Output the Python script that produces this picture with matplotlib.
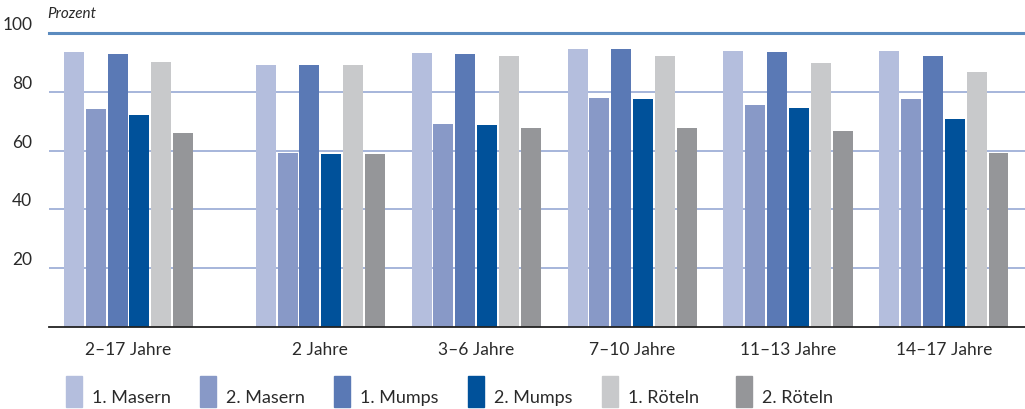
import numpy as np
import matplotlib
matplotlib.use("Agg")
import matplotlib.pyplot as plt
from matplotlib.patches import Rectangle

# Daten (Impfquoten in Prozent)
groups = ["2–17 Jahre", "2 Jahre", "3–6 Jahre", "7–10 Jahre", "11–13 Jahre", "14–17 Jahre"]
series = ["1. Masern", "2. Masern", "1. Mumps", "2. Mumps", "1. Röteln", "2. Röteln"]
masern_1 = [93.5, 89.1, 93.2, 94.6, 93.9, 93.9]
masern_2 = [74.1, 59.2, 69.0, 77.9, 75.5, 77.6]
mumps_1 = [92.9, 89.1, 92.9, 94.6, 93.5, 92.2]
mumps_2 = [72.1, 58.8, 68.7, 77.6, 74.5, 70.7]
roeteln_1 = [90.1, 89.0, 92.2, 92.2, 89.8, 86.7]
roeteln_2 = [66.0, 58.8, 67.7, 67.7, 66.7, 59.2]
values = [masern_1, masern_2, mumps_1, mumps_2, roeteln_1, roeteln_2]
colors = ["#b4bedd", "#8899c7", "#5a79b5", "#00519a", "#c8c9cb", "#959699"]

plt.rcParams['font.family'] = ['Lato', 'DejaVu Sans']

fig = plt.figure(figsize=(10.25, 4.09), dpi=100)
ax = fig.add_axes([49/1025, 1 - 327/409, 1 - 49/1025, (327 - 33)/409])

# Gesamtgruppe etwas abgesetzt
x = np.arange(len(groups)) + np.where(np.arange(len(groups)) > 0, 0.23, 0.0)
pitch = 0.14
width = 0.128
for i, (vals, col) in enumerate(zip(values, colors)):
    ax.bar(x + (i - 2.5) * pitch, vals, width, color=col, zorder=3)

ax.set_xlim(-0.51, 5.75)
ax.set_ylim(0, 100)

for y in [20, 40, 60, 80]:
    ax.axhline(y, color="#9fb0d8", lw=1.3, zorder=1)
ax.axhline(100, color="#5b8bbf", lw=2.2, zorder=1, clip_on=False)

for s in ["top", "right", "left"]:
    ax.spines[s].set_visible(False)
ax.spines["bottom"].set_color("#222222")
ax.spines["bottom"].set_linewidth(1.3)
ax.spines["bottom"].set_zorder(4)

ax.set_yticks([20, 40, 60, 80, 100])
ax.set_yticklabels(["20", "40", "60", "80", "100"])
ax.tick_params(axis="y", length=0, pad=12, labelsize=12.5, labelcolor="#2a2a2a")
for lab in ax.get_yticklabels():
    lab.set_va("bottom")

ax.set_xticks(x)
ax.set_xticklabels(groups)
ax.tick_params(axis="x", length=0, pad=11, labelsize=12.5, labelcolor="#2a2a2a")

fig.text(47/1025, 1 - 18/409, "Prozent", style="italic", fontsize=11,
         color="#2a2a2a", va="baseline")

# Legende
for i, (name, col) in enumerate(zip(series, colors)):
    px = 66 + i * 134
    fig.add_artist(Rectangle((px/1025, 1 - 407/409), 16/1025, 31/409,
                             transform=fig.transFigure, color=col))
    fig.text((px + 26)/1025, 1 - 403/409, name, fontsize=13,
             color="#2a2a2a", va="baseline")

fig.savefig("out.png", dpi=100)
